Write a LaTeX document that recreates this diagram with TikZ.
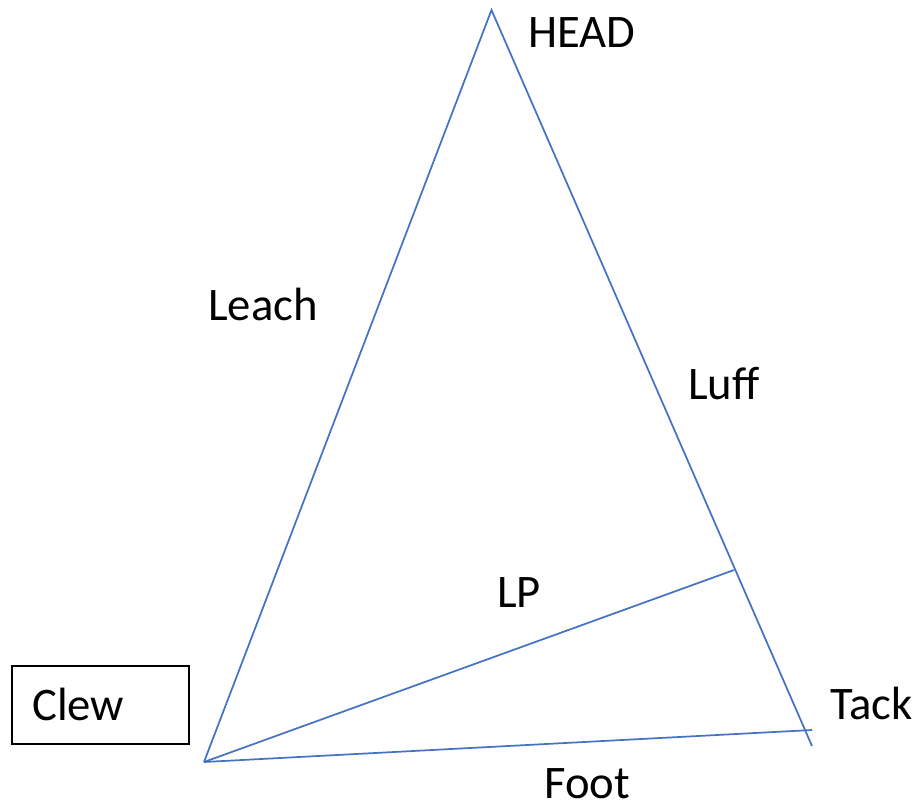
\documentclass[tikz,border=0pt]{standalone}
\usepackage{fontspec}
\setmainfont{Carlito}
\begin{document}
\begin{tikzpicture}[x=0.75pt,y=-0.75pt,
  sail/.style={draw={rgb,255:red,68;green,114;blue,196},line width=1.3pt},
  lbl/.style={anchor=base west,inner sep=0pt,font=\fontsize{35}{40}\selectfont},
  boxed/.style={draw=black,line width=1.1pt,minimum width=177*0.75pt,minimum height=78*0.75pt,inner sep=0pt}]
\useasboundingbox (0,0) rectangle (921,804);
\coordinate (head) at (491.5,10);
\coordinate (clew) at (204,762);
\coordinate (luffend) at (812,746);
\coordinate (footend) at (812,730);
\coordinate (lpend) at (734,570);
\draw[sail] (clew) -- (head) -- (luffend);
\draw[sail] (clew) -- (footend);
\draw[sail] (clew) -- (lpend);
\node[lbl] (headl) at (528,47) {HEAD};
\node[lbl] (leach) at (208,320) {Leach};
\node[lbl] (luff) at (688,399) {Luff};
\node[lbl] (lp) at (497,607) {LP};
\node[lbl] (tack) at (830,719) {Tack};
\node[lbl] (foot) at (544,798.5) {Foot};
\node[boxed] (clewbox) at (100.5,705) {};
\node[lbl] (clewl) at (32,720) {Clew};
\end{tikzpicture}
\end{document}
